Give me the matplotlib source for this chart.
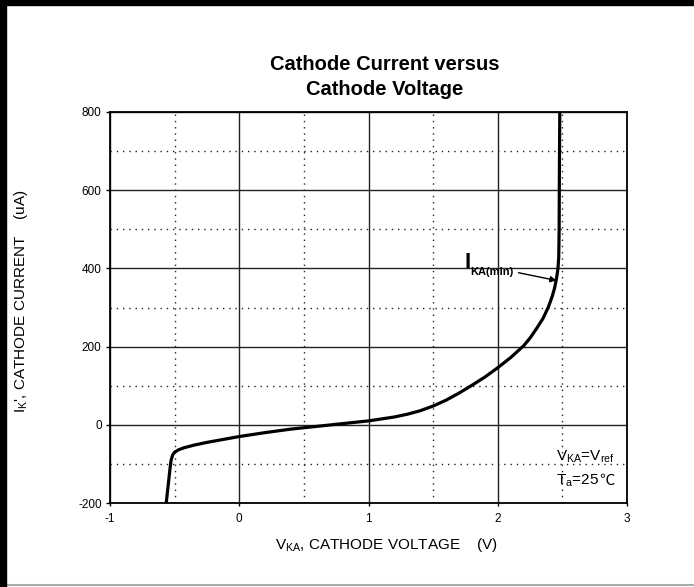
import matplotlib
matplotlib.use("Agg")
import matplotlib.pyplot as plt
from matplotlib.patches import Rectangle
from matplotlib.lines import Line2D

plt.rcParams['font.family'] = ['Liberation Sans', 'DejaVu Sans']
plt.rcParams['mathtext.fontset'] = 'custom'
plt.rcParams['mathtext.rm'] = 'Liberation Sans'
plt.rcParams['mathtext.it'] = 'Liberation Sans:italic'
plt.rcParams['mathtext.bf'] = 'Liberation Sans:bold'

# Data
v_ka = [-0.565, -0.555, -0.545, -0.535, -0.527, -0.515, -0.50, -0.47, -0.43, -0.35,
        -0.25, -0.10, 0.0, 0.2, 0.4, 0.6, 0.8, 1.0, 1.1, 1.2, 1.3, 1.4, 1.5, 1.6,
        1.7, 1.8, 1.9, 2.0, 2.1, 2.2, 2.25, 2.3, 2.35, 2.39, 2.42, 2.44, 2.455,
        2.466, 2.472, 2.475, 2.477, 2.48]
i_k = [-200, -170, -140, -110, -90, -77, -70, -64, -59, -52,
       -45, -36, -30, -20, -11, -4, 3, 10, 15, 20, 27, 36, 48, 63,
       81, 101, 122, 146, 172, 202, 222, 246, 272, 300, 327, 350, 375,
       400, 430, 500, 650, 800]

x_major = [-1, 0, 1, 2, 3]
x_minor = [-0.5, 0.5, 1.5, 2.5]
y_major = [-200, 0, 200, 400, 600, 800]
y_minor = [-100, 100, 300, 500, 700]

W, H = 694, 587
fig = plt.figure(figsize=(W/100, H/100), dpi=100)
ax = fig.add_axes([110/W, 1 - 503/H, (627-110)/W, (503-112)/H])

ax.set_xlim(-1, 3)
ax.set_ylim(-200, 800)
ax.set_xticks(x_major)
ax.set_xticks(x_minor, minor=True)
ax.set_yticks(y_major)
ax.set_yticks(y_minor, minor=True)
ax.set_xticklabels([str(v) for v in x_major], fontsize=8.5)
ax.set_yticklabels([str(v) for v in y_major], fontsize=8.5)
ax.tick_params(which='major', direction='out', length=3, width=1, pad=3)
ax.tick_params(which='minor', length=0)
ax.tick_params(axis='x', which='major', length=2, pad=5)

ax.grid(which='major', color='#222222', linewidth=1.0, linestyle='-')
ax.grid(which='minor', color='#222222', linewidth=1.0, linestyle=(0, (1, 3.5)))
ax.set_axisbelow(True)
for s in ax.spines.values():
    s.set_linewidth(1.3)
    s.set_color('black')

ax.plot(v_ka, i_k, color='black', linewidth=2.3, solid_capstyle='butt',
        solid_joinstyle='round', zorder=3)

ax.annotate('', xy=(2.455, 369), xytext=(2.16, 389),
            arrowprops=dict(arrowstyle='-|>', color='black', lw=1.0,
                            mutation_scale=9, shrinkA=0, shrinkB=0))
ax.text(1.745, 401, 'I', fontsize=16, fontweight='bold', ha='left', va='baseline')
ax.text(1.79, 391, 'KA(min)', fontsize=8, fontweight='bold', ha='left', va='center')

ax.text(2.45, -92, r'V$_{\mathregular{KA}}$=V$_{\mathregular{ref}}$', fontsize=11,
        ha='left', va='baseline')
t2 = ax.text(2.45, -153, r'T$_{\mathregular{a}}$=25', fontsize=11, ha='left', va='baseline')

fig.text(385/W, 1 - 70/H, 'Cathode Current versus', fontsize=14.5, fontweight='bold',
         ha='center', va='baseline')
fig.text(385/W, 1 - 95/H, 'Cathode Voltage', fontsize=14.5, fontweight='bold',
         ha='center', va='baseline')

fig.text(386/W, 1 - 549/H, r'V$_{\mathregular{KA}}$, CATHODE VOLTAGE    (V)', fontsize=11,
         ha='center', va='baseline')
fig.text(21/W, 1 - 301/H, r"I$_{\mathregular{K}}$', CATHODE CURRENT    (uA)", fontsize=11,
         ha='center', va='center', rotation=90)

# degree-Celsius sign placed right after the T_a text
renderer = fig.canvas.get_renderer()
bb = t2.get_window_extent(renderer)
base_y = ax.transData.transform((2.45, -153))[1]
fig.text((bb.x1 + 0.5) / fig.bbox.width, base_y / fig.bbox.height, '℃', fontsize=11,
         ha='left', va='baseline', family=['Noto Sans CJK SC', 'DejaVu Sans'])

# page border
fig.patches.append(Rectangle((0, 0), 6/W, 1, transform=fig.transFigure, color='black', zorder=10))
fig.patches.append(Rectangle((0, 1 - 5/H), 1, 5/H, transform=fig.transFigure, color='black', zorder=10))
fig.lines.append(Line2D([0, 1], [1 - 585/H, 1 - 585/H], transform=fig.transFigure,
                        color='#aaaaaa', linewidth=1.5))

fig.savefig('out.png', dpi=100)
